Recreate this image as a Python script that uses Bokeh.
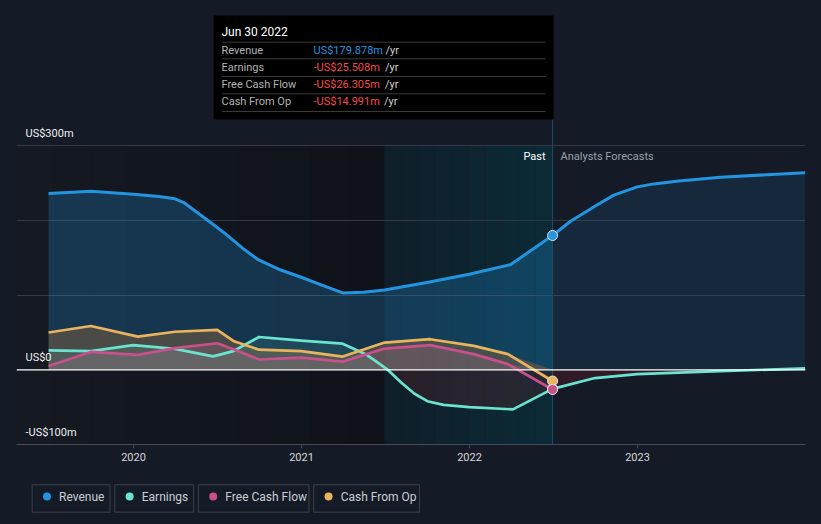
import numpy as np
import pandas as pd
from bokeh.plotting import figure
from bokeh.models import Range1d, FixedTicker, Span
from bokeh.layouts import column
from bokeh.embed import file_html
from bokeh.resources import INLINE
from bokeh.core.properties import value

# ---------------- data ----------------
SERIES = ["Revenue", "Earnings", "Free Cash Flow", "Cash From Op"]
COLORS = ["#2394df", "#6be3cf", "#c9508b", "#e9b45e"]

rev_dates = ["2019-06-30", "2019-09-30", "2019-12-31", "2020-02-25", "2020-03-31",
             "2020-04-19", "2020-05-11", "2020-06-13", "2020-07-19", "2020-08-25",
             "2020-09-27", "2020-11-15", "2020-12-31", "2021-02-15", "2021-03-31",
             "2021-05-15", "2021-06-30", "2021-09-30", "2021-12-31", "2022-03-31",
             "2022-06-30"]
rev_vals = [236, 239, 235, 232, 229, 224, 214, 199, 182, 163, 148, 134, 124, 113, 103,
            104, 107, 117, 128, 141, 179.878]
rev_fc_dates = ["2022-06-30", "2022-08-08", "2022-09-30", "2022-11-10", "2022-12-31",
                "2023-02-05", "2023-03-31", "2023-06-30", "2023-12-31"]
rev_fc_vals = [179.878, 199, 219, 234, 245, 249, 253, 258, 264]

earn_dates = ["2019-06-30", "2019-09-30", "2019-12-31", "2020-03-31", "2020-06-22",
              "2020-08-05", "2020-09-30", "2020-12-31", "2021-03-31", "2021-05-20",
              "2021-06-20", "2021-07-05", "2021-08-05", "2021-09-03", "2021-10-01",
              "2021-11-05", "2021-12-31", "2022-04-05", "2022-06-30"]
earn_vals = [26, 25, 33, 28, 18, 25, 44, 39, 35, 21, 7.6, 1, -17, -32, -42, -47, -50, -53, -25.508]
earn_fc_dates = ["2022-06-30", "2022-09-30", "2022-12-31", "2023-06-15", "2023-12-31"]
earn_fc_vals = [-25.508, -11, -5.8, -2.2, 2]

fcf_dates = ["2019-06-30", "2019-09-30", "2020-01-10", "2020-03-31", "2020-07-01",
             "2020-08-05", "2020-09-30", "2020-12-31", "2021-03-31", "2021-06-30",
             "2021-10-07", "2022-01-10", "2022-03-25", "2022-06-30"]
fcf_vals = [5, 24, 20, 29, 35.6, 27.6, 13.8, 16.4, 11, 28.5, 33, 21, 7.6, -26.305]

cfo_dates = fcf_dates
cfo_vals = [50, 58.7, 44.5, 51, 53.4, 38.7, 27, 25, 17.8, 36.5, 41, 32, 21, -14.991]

X_TICKS = [2020, 2021, 2022, 2023]
GRID_TICKS = [100, 200, 300]
Y_LABEL_VALS = [300, 0, -100]
Y_LABELS = ["US$300m", "US$0", "-US$100m"]
TOOLTIP_DATE = "Jun 30 2022"

# ---------------- helpers ----------------
def dy(s):
    t = pd.Timestamp(s)
    n = 366 if t.is_leap_year else 365
    return t.year + (t.dayofyear - 0.5) / n

def xs(dates):
    return np.array([dy(d) for d in dates])

def money(v):
    return ("-" if v < 0 else "") + "US$" + f"{abs(v):.3f}m"

FONT = "Roboto"
BG = "#151b26"
W, H = 821, 470
L_B, R_B, B_B = 16, 16, 26
FW, FH = W - L_B - R_B, H - B_B

x0, x1 = 2019.3036, 2024.0
y0, y1 = -100.0, 494.6
PXX = FW / (x1 - x0)
PXY = FH / (y1 - y0)

def sx(px):  # canvas px -> data x
    return x0 + (px - L_B) / PXX

def sy(py):  # canvas px -> data y
    return y1 - py / PXY

rx, rfx = xs(rev_dates), xs(rev_fc_dates)
ex, efx = xs(earn_dates), xs(earn_fc_dates)
fx, cx = xs(fcf_dates), xs(cfo_dates)
rv, rfv = np.array(rev_vals, float), np.array(rev_fc_vals, float)
ev, efv = np.array(earn_vals, float), np.array(earn_fc_vals, float)
fv, cv = np.array(fcf_vals, float), np.array(cfo_vals, float)

past_end = rx[-1]
hl_start = past_end - 1.0

p = figure(width=W, height=H, x_range=Range1d(x0, x1), y_range=Range1d(y0, y1),
           output_backend="svg", toolbar_location=None, y_axis_location=None,
           min_border_left=L_B, min_border_right=R_B, min_border_top=0,
           min_border_bottom=B_B, background_fill_color=BG, border_fill_color=BG,
           outline_line_color=None)
p.styles = {"background-color": BG}
p.xgrid.visible = False
p.ygrid.ticker = FixedTicker(ticks=GRID_TICKS)
p.ygrid.grid_line_color = "#343a45"
p.ygrid.grid_line_width = 1

band_top = max(GRID_TICKS)
def grad(c1, c2, n):
    a = np.array([int(c1[i:i + 2], 16) for i in (1, 3, 5)], float)
    b = np.array([int(c2[i:i + 2], 16) for i in (1, 3, 5)], float)
    return ["#%02x%02x%02x" % tuple(np.round(a + (b - a) * t).astype(int)) for t in np.linspace(0, 1, n)]

n1 = 10
edges1 = np.linspace(x0, hl_start, n1 + 1)
p.quad(left=edges1[:-1], right=edges1[1:], bottom=y0, top=band_top,
       fill_color=grad("#141922", "#0f1219", n1), line_color=None, level="image")
n2 = 10
edges2 = np.linspace(hl_start, past_end, n2 + 1)
p.quad(left=edges2[:-1], right=edges2[1:], bottom=y0, top=band_top,
       fill_color=grad("#0f1f29", "#0b2a36", n2), line_color=None, level="image")

# area fills
p.varea(x=rx, y1=0, y2=rv, fill_color=COLORS[0], fill_alpha=0.25)
p.varea(x=rfx, y1=0, y2=rfv, fill_color=COLORS[0], fill_alpha=0.12)
p.varea(x=cx, y1=0, y2=np.clip(cv, 0, None), fill_color="#7e5f3d", fill_alpha=0.5)
p.varea(x=ex, y1=0, y2=np.clip(ev, 0, None), fill_color=COLORS[1], fill_alpha=0.12)
p.varea(x=fx, y1=0, y2=np.clip(fv, 0, None), fill_color="#dc82b4", fill_alpha=0.16)
p.varea(x=ex, y1=0, y2=np.clip(ev, None, 0), fill_color="#c02030", fill_alpha=0.15)
p.varea(x=efx, y1=0, y2=np.clip(efv, None, 0), fill_color="#c02030", fill_alpha=0.15)

# zero line
p.add_layout(Span(location=0, dimension="width", line_color="#ffffff", line_width=1.4,
                  level="glyph"))

# divider at the last reported date
p.segment(x0=[past_end], x1=[past_end], y0=[y0], y1=[sy(119)], line_color="#1d4f62",
          line_width=1)

# series lines
p.line(rx, rv, line_color=COLORS[0], line_width=3, line_join="round")
p.line(rfx, rfv, line_color=COLORS[0], line_width=3, line_join="round")
p.line(ex, ev, line_color=COLORS[1], line_width=2.7, line_join="round")
p.line(efx, efv, line_color=COLORS[1], line_width=2.7, line_join="round")
p.line(fx, fv, line_color=COLORS[2], line_width=2.7, line_join="round")
p.line(cx, cv, line_color=COLORS[3], line_width=2.7, line_join="round")

# markers at latest values
for xx, yy, c in [(rx[-1], rv[-1], COLORS[0]), (ex[-1], ev[-1], COLORS[1]),
                  (cx[-1], cv[-1], COLORS[3]), (fx[-1], fv[-1], COLORS[2])]:
    p.scatter([xx], [yy], size=10, fill_color=c, line_color="#e6e6e6", line_width=1)

# y labels
p.text(x=[sx(25)] * 3, y=[v + 12.5 / PXY for v in Y_LABEL_VALS], text=Y_LABELS,
       text_baseline="middle", text_align="left", text_font=value(FONT),
       text_font_size="11px", text_color="#eeeeee")

# Past / Analysts Forecasts
lab_y = band_top - 11 / PXY
p.text(x=[past_end - 7 / PXX], y=[lab_y], text=["Past"], text_align="right",
       text_baseline="middle", text_font=value(FONT), text_font_size="11px",
       text_color="#ffffff")
p.text(x=[past_end + 8 / PXX], y=[lab_y], text=["Analysts Forecasts"], text_align="left",
       text_baseline="middle", text_font=value(FONT), text_font_size="11px",
       text_color="#9aa0a8")

# tooltip
tt_right = past_end + 1 / PXX
tt_left = tt_right - 340 / PXX
p.quad(left=[tt_left], right=[tt_right], top=[sy(15)], bottom=[sy(119)],
       fill_color="#000000", line_color=None)
p.text(x=[sx(221)], y=[sy(31)], text=[TOOLTIP_DATE], text_baseline="middle",
       text_font=value(FONT), text_font_size="12px", text_color="#ffffff")
sep_y = [41.7, 58.3, 76, 93.3, 111]
p.segment(x0=[sx(221.7)] * 5, x1=[sx(545)] * 5, y0=[sy(v) for v in sep_y],
          y1=[sy(v) for v in sep_y], line_color="#3a3a3a", line_width=1)
row_y = [49.5, 66.5, 84, 101]
last_vals = [rv[-1], ev[-1], fv[-1], cv[-1]]
val_txt = [money(v) for v in last_vals]
val_col = [COLORS[0] if v >= 0 else "#f44a4a" for v in last_vals]
yr_dx = [72, 71.5, 71.5, 70.5]
p.text(x=[sx(221)] * 4, y=[sy(v) for v in row_y], text=SERIES, text_baseline="middle",
       text_font=value(FONT), text_font_size="11px", text_color="#b2b2b2")
p.text(x=[sx(313)] * 4, y=[sy(v) for v in row_y], text=val_txt, text_baseline="middle",
       text_font=value(FONT), text_font_size="11px", text_color=val_col)
p.text(x=[sx(313 + d) for d in yr_dx], y=[sy(v) for v in row_y], text=["/yr"] * 4,
       text_baseline="middle", text_font=value(FONT), text_font_size="11px",
       text_color="#d0d0d0")

# x axis
ax = p.xaxis[0]
ax.ticker = FixedTicker(ticks=X_TICKS)
ax.axis_line_color = "#464c56"
ax.major_tick_line_color = "#464c56"
ax.major_tick_in = 0
ax.major_tick_out = 4
ax.minor_tick_line_color = None
ax.major_label_standoff = 4
ax.major_label_text_color = "#d6d6d6"
ax.major_label_text_font = FONT
ax.major_label_text_font_size = "11px"

# ---------------- legend ----------------
lg = figure(width=W, height=54, x_range=Range1d(0, W), y_range=Range1d(54, 0),
            output_backend="svg", toolbar_location=None, x_axis_location=None,
            y_axis_location=None, min_border=0, background_fill_color=BG,
            border_fill_color=BG, outline_line_color=None)
lg.styles = {"background-color": BG}
lg.xgrid.visible = False
lg.ygrid.visible = False
box_w = [81, 82, 115, 110]
lefts = [16.3]
for w in box_w[:-1]:
    lefts.append(lefts[-1] + w + 5)
lefts = np.array(lefts)
lg.quad(left=lefts, right=lefts + np.array(box_w), top=14.3, bottom=41.7,
        fill_color=None, line_color="#3b404a", line_width=1)
lg.scatter(lefts + 15.4, [26] * 4, size=8, fill_color=COLORS, line_color=None)
lg.text(x=lefts + 28, y=[26.5] * 4, text=SERIES, text_baseline="middle",
        text_font=value(FONT), text_font_size="12px", text_color="#c9cdd2")

layout = column(p, lg, spacing=0)
layout.styles = {"background-color": BG}
open("out.html", "w").write(file_html(layout, INLINE))
